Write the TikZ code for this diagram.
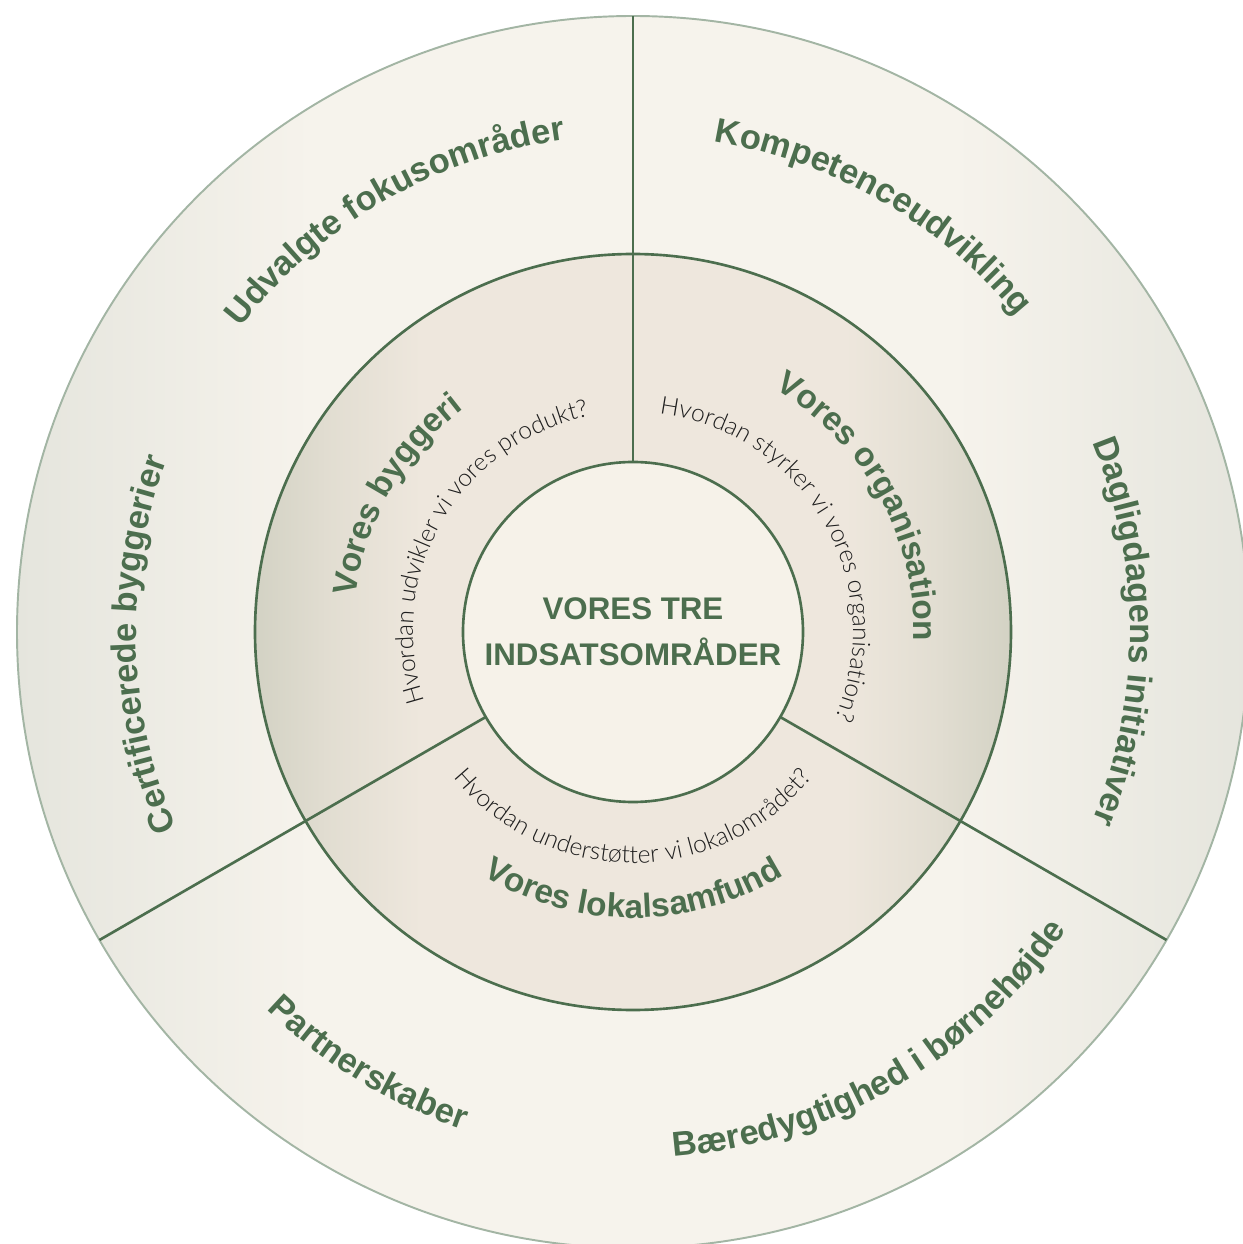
\documentclass[tikz,border=0pt]{standalone}
\usepackage{fontspec}
\setmainfont{Liberation Sans}
\newfontfamily\thinfont{Lato Light}
\usetikzlibrary{decorations.text}

\definecolor{leaf}{RGB}{76,110,78}
\definecolor{rim}{RGB}{163,181,164}
\definecolor{outeredge}{RGB}{229,229,221}
\definecolor{outermid}{RGB}{246,243,236}
\definecolor{ringedge}{RGB}{211,210,196}
\definecolor{ringmid}{RGB}{238,231,221}
\definecolor{hubfill}{RGB}{246,242,233}
\definecolor{ink}{RGB}{30,30,30}

\pgfdeclarehorizontalshading{outershade}{100bp}{color(0bp)=(outeredge); color(25bp)=(outeredge); color(37bp)=(outermid); color(63bp)=(outermid); color(75bp)=(outeredge); color(100bp)=(outeredge)}
\pgfdeclarehorizontalshading{ringshade}{100bp}{color(0bp)=(ringedge); color(25bp)=(ringedge); color(30bp)=(ringedge!45!ringmid); color(36bp)=(ringmid); color(64bp)=(ringmid); color(70bp)=(ringedge!45!ringmid); color(75bp)=(ringedge); color(100bp)=(ringedge)}

\begin{document}
\begin{tikzpicture}[
  ring/.style={circle, inner sep=0pt, outer sep=0pt},
  divider/.style={draw=leaf, line width=1.5pt},
  outerlab/.style={decorate, decoration={text along path, text align=center,
    text={|\fontsize{19.6}{24}\selectfont\bfseries\color{leaf}|#1}}},
  midlab/.style={decorate, decoration={text along path, text align=center,
    text={|\fontsize{19}{23}\selectfont\bfseries\color{leaf}|#1}}},
  asklab/.style={decorate, decoration={text along path, text align=center,
    text={|\fontsize{14}{16}\thinfont\color{ink}|#1}}}
  ]
  \useasboundingbox (-12.66,-12.24) rectangle (12.20,12.64);

  \node[ring, minimum size=24.64cm, shade, shading=outershade, draw=rim, line width=1.1pt] (outer) at (0,0) {};
  \node[ring, minimum size=15.12cm, shade, shading=ringshade, draw=leaf, line width=1.5pt] (mid) at (0,0) {};
  \node[ring, minimum size=6.8cm, fill=hubfill, draw=leaf, line width=1.5pt, text=leaf, align=center,
    font=\fontsize{17.8}{26}\selectfont\bfseries] (hub) at (0,0) {VORES TRE\\INDSATSOMRÅDER};

  \draw[divider] (hub.90) -- (outer.90);
  \draw[divider] (hub.210) -- (outer.210);
  \draw[divider] (hub.330) -- (outer.330);

  % outer ring
  \path[outerlab={Udvalgte fokusområder}] (hub.center) ++(170:9.94) arc[start angle=170, end angle=70, radius=9.94];
  \path[outerlab={Kompetenceudvikling}] (hub.center) ++(110:9.94) arc[start angle=110, end angle=10, radius=9.94];
  \path[outerlab={Dagligdagens initiativer}] (hub.center) ++(50:9.94) arc[start angle=50, end angle=-50, radius=9.94];
  \path[outerlab={Certificerede byggerier}] (hub.center) ++(231.5:9.94) arc[start angle=231.5, end angle=131.5, radius=9.94];
  \path[outerlab={Partnerskaber}] (hub.center) ++(-171.5:10.52) arc[start angle=-171.5, end angle=-71.5, radius=10.52];
  \path[outerlab={Bæredygtighed i børnehøjde}] (hub.center) ++(-110:10.52) arc[start angle=-110, end angle=-10, radius=10.52];

  % middle ring
  \path[midlab={Vores byggeri}] (hub.center) ++(200:5.6) arc[start angle=200, end angle=100, radius=5.6];
  \path[midlab={Vores organisation}] (hub.center) ++(79:5.62) arc[start angle=79, end angle=-21, radius=5.62];
  \path[midlab={Vores lokalsamfund}] (hub.center) ++(-140:5.72) arc[start angle=-140, end angle=-40, radius=5.72];

  \path[asklab={Hvordan udvikler vi vores produkt?}] (hub.center) ++(230:4.4) arc[start angle=230, end angle=70, radius=4.4];
  \path[asklab={Hvordan styrker vi vores organisation?}] (hub.center) ++(110:4.4) arc[start angle=110, end angle=-50, radius=4.4];
  \path[asklab={Hvordan understøtter vi lokalområdet?}] (hub.center) ++(-170:4.62) arc[start angle=-170, end angle=-10, radius=4.62];
\end{tikzpicture}
\end{document}
